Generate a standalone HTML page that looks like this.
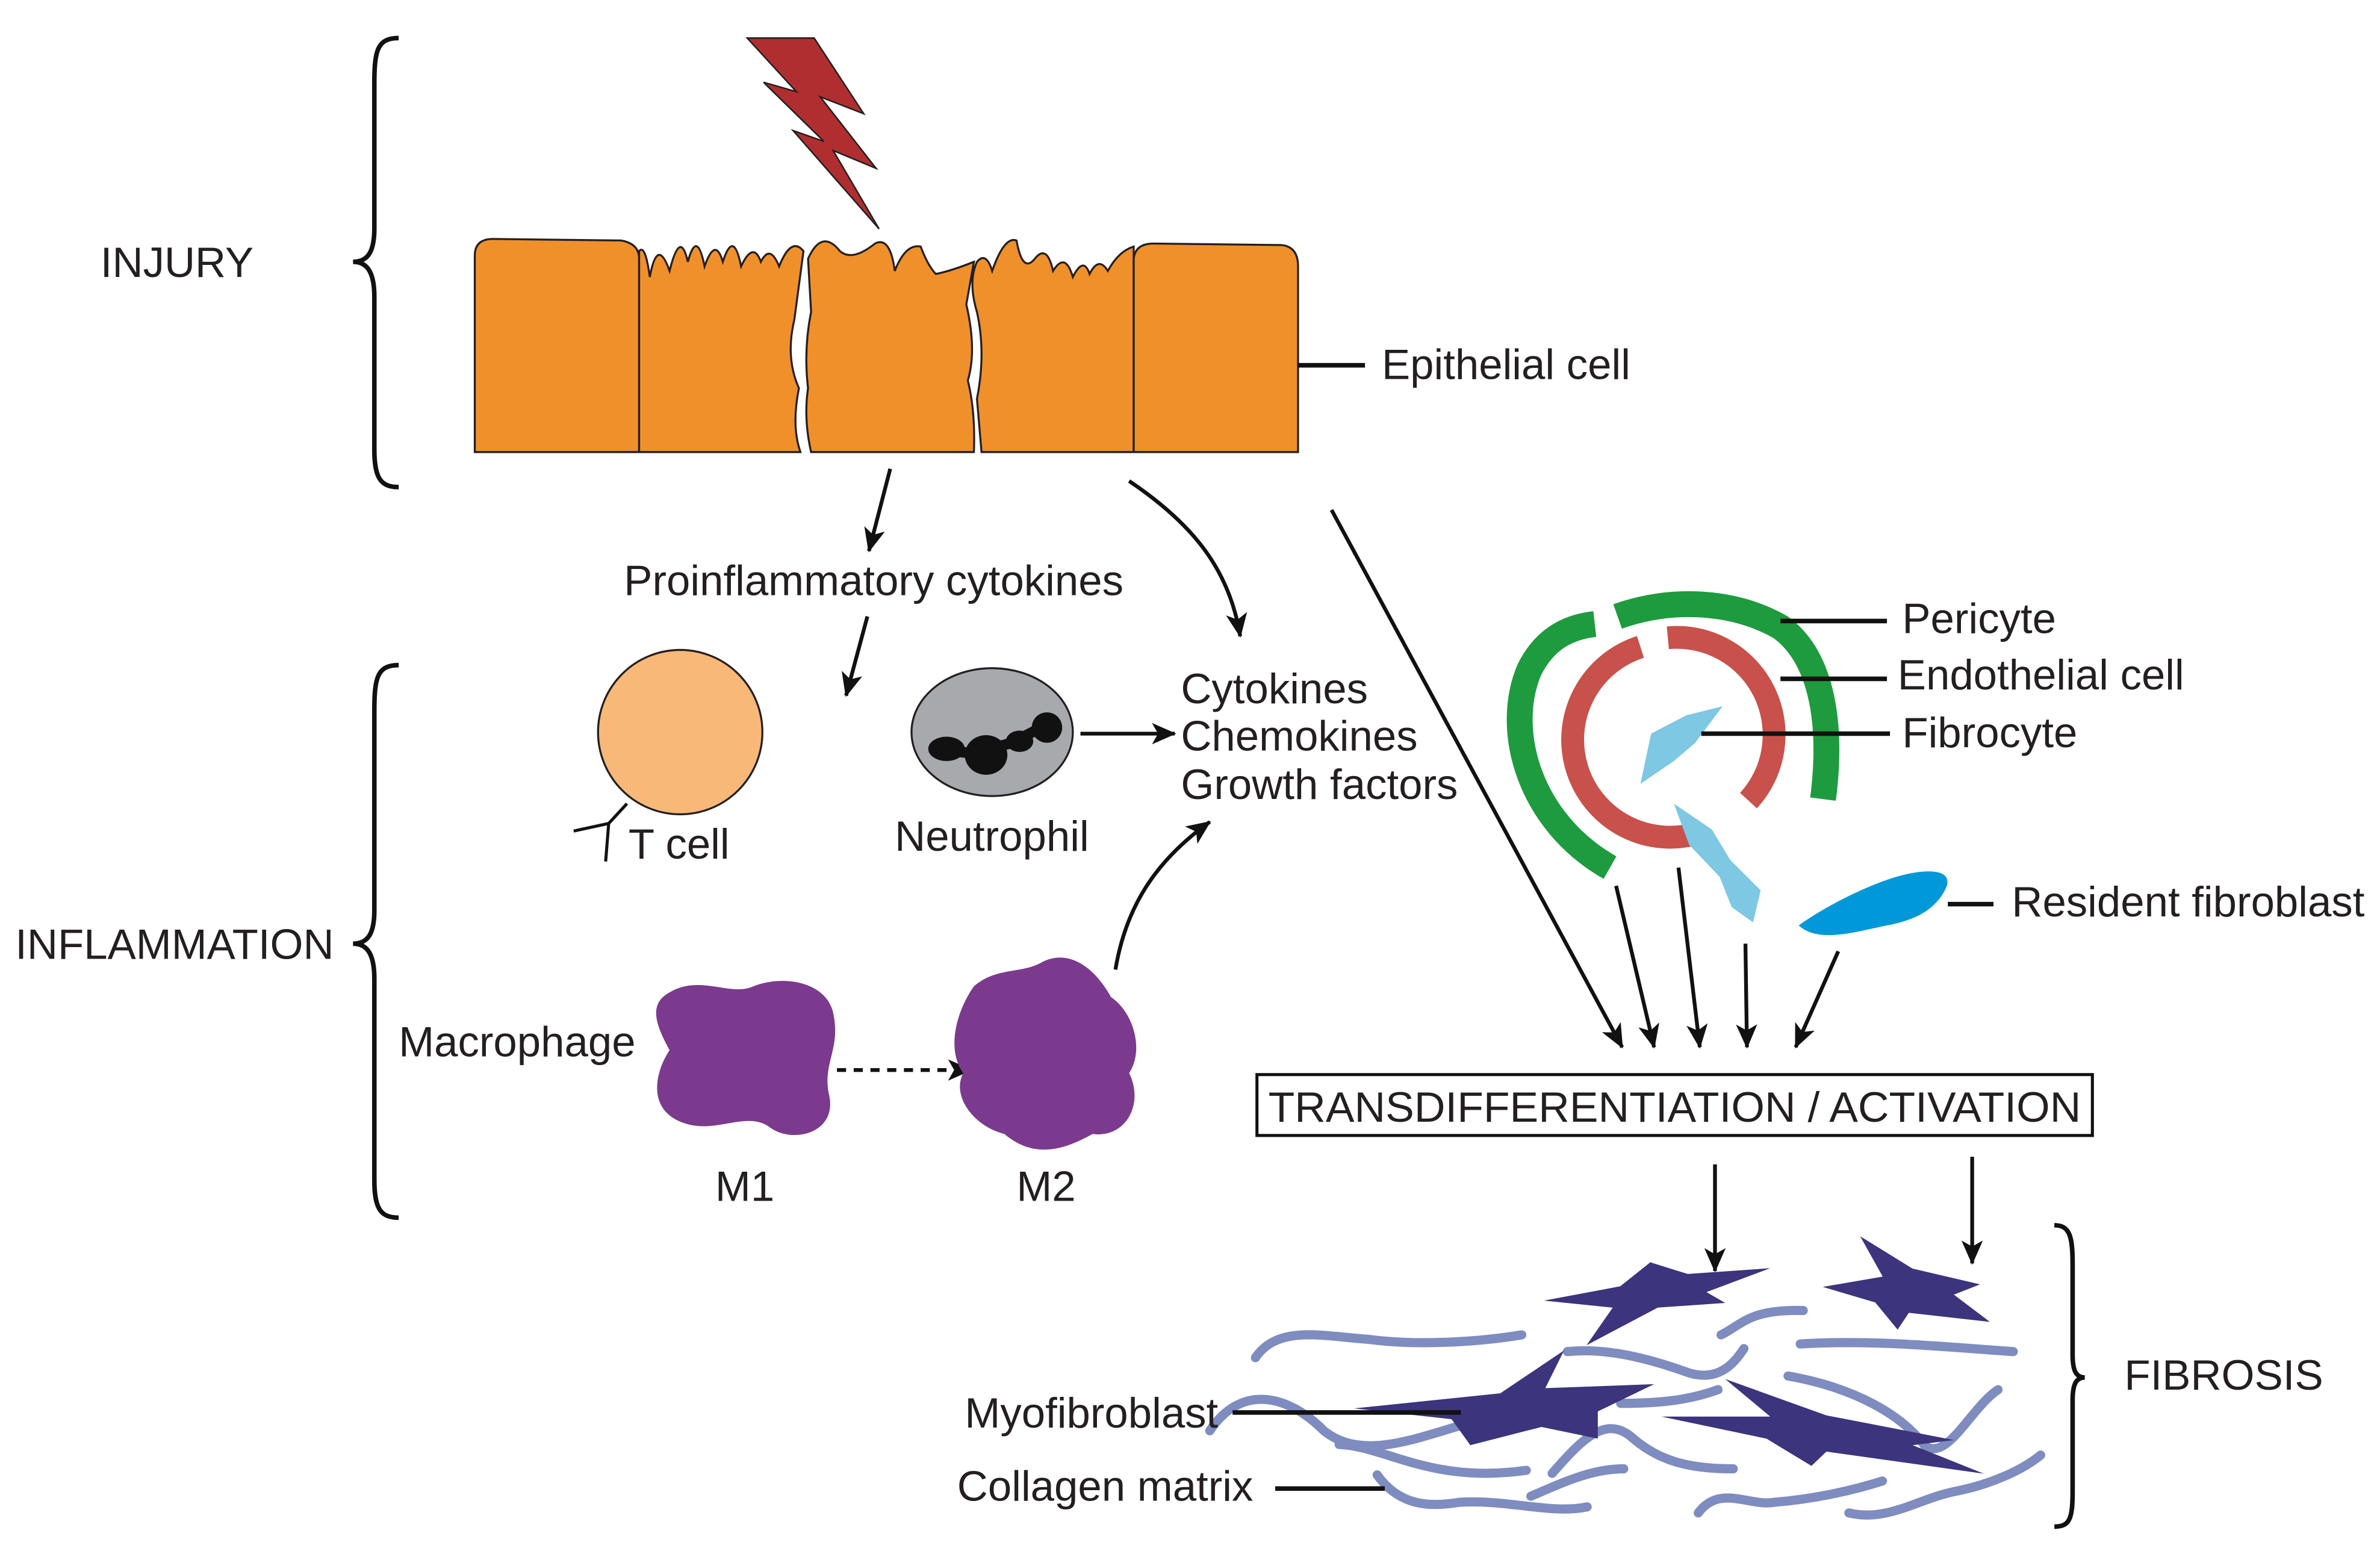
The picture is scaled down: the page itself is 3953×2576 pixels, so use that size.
<!DOCTYPE html>
<html><head><meta charset="utf-8"><style>
html,body{margin:0;padding:0;background:#fff;}
svg{display:block;}
text{font-family:"Liberation Sans",Arial,sans-serif;font-size:28px;fill:#231F20;}
</style></head><body>
<svg width="3953" height="2576" viewBox="0 0 1564 1019" preserveAspectRatio="none" xmlns="http://www.w3.org/2000/svg">
<defs>
<marker id="ah2" markerWidth="16" markerHeight="14" refX="15" refY="7" orient="auto" markerUnits="userSpaceOnUse">
<path d="M0,0 L16,7 L0,14 L4,7 Z" fill="#111"/></marker>
</defs>
<rect width="1564" height="1019" fill="#fff"/>

<g fill="none" stroke="#111" stroke-width="3">
<path d="M262,25 C248,25 246,33 246,55 L246,150 C246,165 242,172 232,172 C242,172 246,180 246,195 L246,295 C246,314 250,320 262,320"/>
<path d="M262,437 C248,437 246,445 246,467 L246,598 C246,613 242,620 232,620 C242,620 246,628 246,643 L246,775 C246,794 250,800 262,800"/>
<path d="M1350,805 C1360,805 1362,812 1362,830 L1362,890 C1362,900 1364,905 1370,905 C1364,905 1362,910 1362,920 L1362,980 C1362,998 1360,1003 1350,1003"/>
</g>
<text x="66" y="182">INJURY</text>
<text x="10" y="630">INFLAMMATION</text>
<text x="1396" y="913">FIBROSIS</text>

<polygon points="491,25 535,25 567.6,74.7 539,63.6 575.7,110.6 547.5,98.9 577.7,150.4 521.2,85.8 541.4,92.9 501.8,54.1 523.3,60.2" fill="#B02E30" stroke="#231F20" stroke-width="1"/>

<g fill="#F0902B" stroke="#231F20" stroke-width="1.3">
<path d="M312,297 L312,168 Q312,157 324,157 L408,158 Q420,160 420,170 L420,297 Z"/>
<path d="M420,297 L420,165 Q424,160 427,182 Q432,155 440,178 Q447,150 452,172 Q458,150 463,175 Q470,155 475,172 Q482,150 487,175 Q495,158 500,172 Q506,160 512,175 Q520,155 528,165 L522,210 Q516,235 525,255 Q520,280 526,297 Z"/>
<path d="M533,297 Q528,275 531,255 Q528,230 533,205 L531,170 Q540,150 552,165 Q560,172 575,160 Q585,155 588,178 Q595,160 605,162 Q610,175 615,180 Q625,178 640,172 L635,200 Q642,230 636,250 Q641,270 640,297 Z"/>
<path d="M645,297 L642,262 Q648,232 642,205 Q636,185 642,172 Q648,165 652,178 Q660,155 668,158 Q672,180 680,170 Q688,160 692,178 Q700,165 705,182 Q712,168 716,180 Q722,168 728,178 Q735,165 745,162 L745,297 Z"/>
<path d="M745,297 L745,170 Q746,160 758,160 L842,161 Q853,162 853,175 L853,297 Z"/>
</g>
<line x1="853" y1="240" x2="897" y2="240" stroke="#111" stroke-width="3"/>
<text x="908" y="249">Epithelial cell</text>

<g stroke="#111" stroke-width="2.5" fill="none">
<line x1="585" y1="308" x2="571" y2="362" marker-end="url(#ah2)"/>
<path d="M742,316 C785,345 808,375 815,418" marker-end="url(#ah2)"/>
<line x1="570" y1="405" x2="556" y2="457" marker-end="url(#ah2)"/>
<line x1="875" y1="335" x2="1066" y2="688" marker-end="url(#ah2)"/>
<line x1="710" y1="482" x2="772" y2="482" marker-end="url(#ah2)"/>
<path d="M733,637 C740,595 760,565 795,540" marker-end="url(#ah2)"/>
<line x1="550" y1="703" x2="638" y2="703" stroke-dasharray="6,5" marker-end="url(#ah2)"/>
<line x1="1062" y1="582" x2="1087" y2="688" marker-end="url(#ah2)"/>
<line x1="1103" y1="570" x2="1117" y2="688" marker-end="url(#ah2)"/>
<line x1="1147" y1="620" x2="1148" y2="688" marker-end="url(#ah2)"/>
<line x1="1208" y1="625" x2="1180" y2="688" marker-end="url(#ah2)"/>
<line x1="1127" y1="765" x2="1127" y2="835" marker-end="url(#ah2)"/>
<line x1="1296" y1="760" x2="1296" y2="830" marker-end="url(#ah2)"/>
</g>
<text x="410" y="391">Proinflammatory cytokines</text>

<circle cx="447" cy="481" r="54" fill="#F8B878" stroke="#231F20" stroke-width="1.3"/>
<g stroke="#111" stroke-width="2" fill="none">
<line x1="412" y1="528" x2="400" y2="541"/>
<line x1="400" y1="541" x2="377" y2="546"/>
<line x1="400" y1="541" x2="398" y2="566"/>
</g>
<text x="413" y="564">T cell</text>

<ellipse cx="652" cy="481" rx="53" ry="42" fill="#A8A9AD" stroke="#231F20" stroke-width="1.3"/>
<g fill="#111">
<ellipse cx="622" cy="492" rx="12" ry="8"/>
<ellipse cx="648" cy="496" rx="14" ry="13"/>
<ellipse cx="670" cy="487" rx="9" ry="7"/>
<ellipse cx="688" cy="478" rx="10" ry="10"/>
</g>
<polyline points="612,492 640,495 665,488 690,475" stroke="#111" stroke-width="7" fill="none"/>
<text x="588" y="559">Neutrophil</text>
<text x="776" y="462">Cytokines</text>
<text x="776" y="493">Chemokines</text>
<text x="776" y="525">Growth factors</text>

<text x="262" y="694">Macrophage</text>
<path d="M440,652 C460,640 480,655 495,648 C515,640 545,645 548,668 C552,690 540,700 545,720 C550,745 520,752 505,740 C490,730 470,745 450,738 C425,730 430,705 440,690 C432,675 425,660 440,652Z" fill="#7B3A8E"/>
<path d="M640,648 C655,635 672,640 685,632 C705,622 722,640 730,655 C745,665 752,690 742,705 C752,725 740,748 718,745 C700,755 680,762 660,745 C640,740 625,720 633,705 C622,690 628,665 640,648Z" fill="#7B3A8E"/>
<text x="470" y="789">M1</text>
<text x="668" y="789">M2</text>

<path d="M1058,570 C1005,540 988,480 1005,440 C1015,420 1030,412 1048,410" fill="none" stroke="#1E9B3E" stroke-width="17"/>
<path d="M1063,405 C1100,392 1140,395 1170,412 C1195,430 1205,470 1198,525" fill="none" stroke="#1E9B3E" stroke-width="17"/>
<path d="M1078,425 A64,64 0 1 0 1117,547" fill="none" stroke="#C8514B" stroke-width="15"/>
<path d="M1096,419 A64,64 0 0 1 1149,526" fill="none" stroke="#C8514B" stroke-width="15"/>
<polygon points="1078,515 1085,482 1108,470 1132,464 1114,488 1100,500" fill="#7EC8E3"/>
<polygon points="1100,528 1125,545 1137,565 1157,585 1152,606 1138,596 1130,576 1110,555" fill="#7EC8E3"/>
<path d="M1182,608 C1200,595 1230,580 1250,575 C1270,570 1285,572 1278,585 C1270,600 1255,605 1240,608 C1220,612 1195,620 1182,608Z" fill="#0098D8"/>
<g stroke="#111" stroke-width="3">
<line x1="1170" y1="408" x2="1240" y2="408"/>
<line x1="1170" y1="446" x2="1240" y2="446"/>
<line x1="1118" y1="482" x2="1242" y2="482"/>
<line x1="1280" y1="594" x2="1310" y2="594"/>
</g>
<text x="1250" y="416">Pericyte</text>
<text x="1247" y="453">Endothelial cell</text>
<text x="1250" y="491">Fibrocyte</text>
<text x="1322" y="602">Resident fibroblast</text>

<rect x="826" y="706" width="549" height="40" fill="#fff" stroke="#111" stroke-width="2"/>
<text x="1100.5" y="737" text-anchor="middle" textLength="534" lengthAdjust="spacingAndGlyphs">TRANSDIFFERENTIATION / ACTIVATION</text>

<g fill="none" stroke="#7E8CC0" stroke-width="6" stroke-linecap="round">
<path d="M825,892 C840,870 870,878 900,880 C930,884 970,882 1000,877"/>
<path d="M795,940 C815,910 845,915 870,940 C895,960 930,945 965,935"/>
<path d="M1030,888 C1060,885 1090,895 1110,902 C1130,908 1140,895 1146,886"/>
<path d="M1131,877 C1145,870 1150,860 1185,861"/>
<path d="M1183,883 C1230,880 1280,885 1323,888"/>
<path d="M1065,922 C1090,922 1110,920 1129,913"/>
<path d="M1175,904 C1220,912 1250,930 1265,950 C1280,960 1295,925 1313,913"/>
<path d="M880,949 C910,950 940,975 1003,966"/>
<path d="M1020,968 C1040,945 1055,930 1072,944 C1090,960 1110,965 1139,965"/>
<path d="M1006,983 C1025,975 1045,965 1067,965"/>
<path d="M905,969 C920,990 940,990 959,987 C990,985 1020,995 1043,990"/>
<path d="M1116,994 C1130,975 1150,990 1166,987 C1190,985 1215,980 1237,973"/>
<path d="M1215,994 C1240,1000 1260,985 1284,980 C1310,975 1330,965 1341,956"/>
</g>
<g fill="#3C347D">
<polygon points="1084.5,829.3 1109.1,837 1163.3,833.2 1121.4,848.9 1133.7,856 1089.4,859.1 1042.6,883.8 1059.8,859.1 1014.5,854.5 1064.7,845.1"/>
<polygon points="1222.4,812.2 1256.9,833.5 1301.2,843.8 1284,850.6 1307.7,868.5 1254.4,862.5 1247,873.6 1232.3,855.7 1197.8,845.5 1237.2,838.7"/>
<polygon points="1027.8,887.2 1015.5,912 1087,909.4 1050,927.3 1050,945.2 1013,937.5 966.2,949.5 953.9,932.4 889.8,925.3 985.9,915.4"/>
<polygon points="1133.7,906 1200.2,929.9 1284,946.1 1256.9,949.5 1303.7,968.2 1200.2,953.7 1190.4,963.1 1160.8,945.2 1091.8,930.7 1163.3,930.7"/>
</g>
<g stroke="#111" stroke-width="3">
<line x1="810" y1="928" x2="960" y2="928"/>
<line x1="838" y1="978" x2="910" y2="978"/>
</g>
<text x="634" y="938">Myofibroblast</text>
<text x="629" y="986">Collagen matrix</text>
</svg>
</body></html>
